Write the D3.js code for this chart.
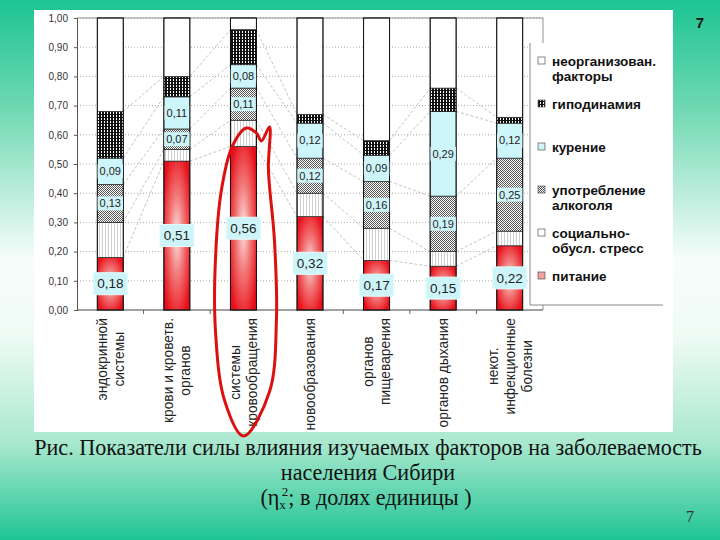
<!DOCTYPE html>
<html>
<head>
<meta charset="utf-8">
<script src="https://cdn.jsdelivr.net/npm/d3@7"></script>
<style>
body { margin: 0; }
svg { display: block; }
</style>
</head>
<body>
<script>
// categories (two-line labels as on the slide)
var categories = [
    ["эндокринной", "системы"],
    ["крови и кроветв.", "органов"],
    ["системы", "кровообращения"],
    ["новообразования"],
    ["органов", "пищеварения"],
    ["органов дыхания"],
    ["некот.", "инфекционные", "болезни"]
];

// series, bottom to top
var nutrition   = [0.18, 0.51, 0.56, 0.32, 0.17, 0.15, 0.22];
var stress      = [0.12, 0.04, 0.09, 0.08, 0.11, 0.05, 0.05];
var alcohol     = [0.13, 0.07, 0.11, 0.12, 0.16, 0.19, 0.25];
var smoking     = [0.09, 0.11, 0.08, 0.12, 0.09, 0.29, 0.12];
var hypodynamia = [0.16, 0.07, 0.12, 0.03, 0.05, 0.08, 0.02];
var unorganized = [0.32, 0.20, 0.04, 0.33, 0.42, 0.24, 0.34];

var yTicks = [0, 0.1, 0.2, 0.3, 0.4, 0.5, 0.6, 0.7, 0.8, 0.9, 1.0];

var legendLabels = [
    ["неорганизован.", "факторы"],
    ["гиподинамия"],
    ["курение"],
    ["употребление", "алкоголя"],
    ["социально-", "обусл. стресс"],
    ["питание"]
];

var width = 720,
    height = 540;

var svg = d3.select("body")
    .append("svg")
    .attr("width", width)
    .attr("height", height);

var defs = svg.append("defs");

//slide background
var bg = defs.append("linearGradient")
    .attr("id", "bgGrad")
    .attr("x1", 0).attr("y1", 0).attr("x2", 0).attr("y2", 1);
bg.append("stop").attr("offset", "0").attr("stop-color", "#1dc492");
bg.append("stop").attr("offset", "0.2").attr("stop-color", "#6fd8b3");
bg.append("stop").attr("offset", "0.48").attr("stop-color", "#f6fdfa");
bg.append("stop").attr("offset", "0.62").attr("stop-color", "#f0fbf6");
bg.append("stop").attr("offset", "0.82").attr("stop-color", "#a9e8cf");
bg.append("stop").attr("offset", "1").attr("stop-color", "#1fc493");

//red fill for "питание"
var red = defs.append("radialGradient")
    .attr("id", "redGrad")
    .attr("cx", "0.5").attr("cy", "0.5").attr("r", "0.6");
red.append("stop").attr("offset", "0").attr("stop-color", "#fbe3e3");
red.append("stop").attr("offset", "0.45").attr("stop-color", "#f27a7a");
red.append("stop").attr("offset", "1").attr("stop-color", "#e8101a");

//patterns
var pStress = defs.append("pattern")
    .attr("id", "pStress").attr("patternUnits", "userSpaceOnUse")
    .attr("width", 3).attr("height", 3);
pStress.append("rect").attr("width", 3).attr("height", 3).attr("fill", "#fff");
pStress.append("rect").attr("width", 1).attr("height", 3).attr("fill", "#cfcfcf");

var pAlc = defs.append("pattern")
    .attr("id", "pAlc").attr("patternUnits", "userSpaceOnUse")
    .attr("width", 2).attr("height", 2);
pAlc.append("rect").attr("width", 2).attr("height", 2).attr("fill", "#fff");
pAlc.append("rect").attr("width", 1).attr("height", 1).attr("fill", "#555");
pAlc.append("rect").attr("x", 1).attr("y", 1).attr("width", 1).attr("height", 1).attr("fill", "#555");

var pHypo = defs.append("pattern")
    .attr("id", "pHypo").attr("patternUnits", "userSpaceOnUse")
    .attr("width", 3).attr("height", 3);
pHypo.append("rect").attr("width", 3).attr("height", 3).attr("fill", "#fff");
pHypo.append("rect").attr("width", 2).attr("height", 3).attr("fill", "#111");
pHypo.append("rect").attr("width", 3).attr("height", 1).attr("fill", "#111");

var fills = ["url(#redGrad)", "url(#pStress)", "url(#pAlc)", "#ccf6fa", "url(#pHypo)", "#fff"];
var legendFills = ["#fff", "url(#pHypo)", "#ccf6fa", "url(#pAlc)", "#fff", "#f2a0a0"];

svg.append("rect")
    .attr("width", width).attr("height", height)
    .attr("fill", "url(#bgGrad)");

//white chart panel
svg.append("rect")
    .attr("x", 34).attr("y", 10)
    .attr("width", 639).attr("height", 422)
    .attr("fill", "#fff");

//scales
var x = d3.scaleBand()
    .domain(d3.range(categories.length))
    .range([77, 543])
    .paddingInner(0.61)
    .paddingOuter(0.305);

var y = d3.scaleLinear()
    .domain([0, 1])
    .range([310, 18]);

//gridlines
svg.selectAll(".grid")
    .data(yTicks.slice(1))
    .enter()
    .append("line")
    .attr("class", "grid")
    .attr("x1", 77).attr("x2", 543)
    .attr("y1", function(d){ return y(d); })
    .attr("y2", function(d){ return y(d); })
    .attr("stroke", "#999")
    .attr("stroke-width", 0.8)
    .attr("stroke-dasharray", "1,2");

//plot frame top / right
svg.append("path")
    .attr("d", "M77," + y(1) + "H543V310")
    .attr("fill", "none")
    .attr("stroke", "#777")
    .attr("stroke-width", 0.8);

//y axis
var yAxis = d3.axisLeft(y)
    .tickValues(yTicks)
    .tickSize(3)
    .tickFormat(function(d){ return d3.format(".2f")(d).replace(".", ","); });

var gy = svg.append("g")
    .attr("transform", "translate(77,0)")
    .call(yAxis);
gy.select(".domain").attr("stroke", "#555");
gy.selectAll(".tick line").attr("stroke", "#555");
gy.selectAll(".tick text")
    .attr("x", -9)
    .attr("font-family", "Arial, 'Liberation Sans', sans-serif")
    .attr("font-size", "10px")
    .attr("fill", "#333");

//x axis with ticks between categories
svg.append("line")
    .attr("x1", 77).attr("x2", 543)
    .attr("y1", 310).attr("y2", 310)
    .attr("stroke", "#444");
svg.selectAll(".xtick")
    .data(d3.range(1, categories.length))
    .enter()
    .append("line")
    .attr("class", "xtick")
    .attr("x1", function(d){ return x(d) - x.step() * x.paddingInner() / 2; })
    .attr("x2", function(d){ return x(d) - x.step() * x.paddingInner() / 2; })
    .attr("y1", 310).attr("y2", 314)
    .attr("stroke", "#666");

//stacked data
var keys = ["nutrition", "stress", "alcohol", "smoking", "hypodynamia", "unorganized"];
var table = categories.map(function(c, i){
    return {
        idx: i,
        nutrition: nutrition[i],
        stress: stress[i],
        alcohol: alcohol[i],
        smoking: smoking[i],
        hypodynamia: hypodynamia[i],
        unorganized: unorganized[i]
    };
});
var stacked = d3.stack().keys(keys)(table);

//series lines between neighbouring bars
var seriesLines = [];
stacked.slice(0, 5).forEach(function(s){
    for (var i = 0; i < s.length - 1; i++) {
        seriesLines.push({a: s[i], b: s[i + 1], i: i});
    }
});
svg.selectAll(".sline")
    .data(seriesLines)
    .enter()
    .append("line")
    .attr("class", "sline")
    .attr("x1", function(d){ return x(d.i) + x.bandwidth(); })
    .attr("x2", function(d){ return x(d.i + 1); })
    .attr("y1", function(d){ return y(d.a[1]); })
    .attr("y2", function(d){ return y(d.b[1]); })
    .attr("stroke", "#aaa")
    .attr("stroke-width", 0.7)
    .attr("stroke-dasharray", "3,2");

//bars
var layers = svg.selectAll(".layer")
    .data(stacked)
    .enter()
    .append("g")
    .attr("class", "layer")
    .attr("fill", function(d, i){ return fills[i]; });

layers.selectAll("rect")
    .data(function(d){ return d; })
    .enter()
    .append("rect")
    .attr("x", function(d){ return x(d.data.idx); })
    .attr("y", function(d){ return y(d[1]); })
    .attr("width", x.bandwidth())
    .attr("height", function(d){ return y(d[0]) - y(d[1]); })
    .attr("stroke", "#222")
    .attr("stroke-width", 0.7);

//full column outline
svg.selectAll(".col")
    .data(table)
    .enter()
    .append("rect")
    .attr("class", "col")
    .attr("x", function(d){ return x(d.idx); })
    .attr("y", y(1))
    .attr("width", x.bandwidth())
    .attr("height", y(0) - y(1))
    .attr("fill", "none")
    .attr("stroke", "#111")
    .attr("stroke-width", 1);

//value labels: питание (large), алкоголь and курение (small)
function fmt(v){ return d3.format(".2f")(v).replace(".", ","); }
var labelSets = [
    {layer: 0, size: 13.5, boxH: 22, pad: 4},
    {layer: 2, size: 11, boxH: 14, pad: 2},
    {layer: 3, size: 11, boxH: 14, pad: 2}
];
labelSets.forEach(function(ls){
    stacked[ls.layer].forEach(function(d){
        var v = d[1] - d[0];
        var cx = x(d.data.idx) + x.bandwidth() / 2,
            cy = y((d[0] + d[1]) / 2);
        var g = svg.append("g").attr("transform", "translate(" + cx + "," + cy + ")");
        var box = g.append("rect")
            .attr("fill", "#cdf5f9")
            .attr("stroke", ls.layer === 0 ? "#e6fbfd" : "none");
        var t = g.append("text")
            .attr("text-anchor", "middle")
            .attr("dy", "0.35em")
            .attr("font-family", "Arial, 'Liberation Sans', sans-serif")
            .attr("font-size", ls.size + "px")
            .attr("fill", "#222")
            .text(fmt(v));
        var w = t.node().getComputedTextLength() + ls.pad * 2;
        box.attr("x", -w / 2).attr("y", -ls.boxH / 2)
            .attr("width", w).attr("height", ls.boxH);
    });
});

//category labels, rotated
categories.forEach(function(lines, i){
    var cx = x(i) + x.bandwidth() / 2;
    var g = svg.append("g");
    var texts = lines.map(function(line, j){
        return g.append("text")
            .attr("text-anchor", "middle")
            .attr("font-family", "Arial, 'Liberation Sans', sans-serif")
            .attr("font-size", "13.8px")
            .attr("fill", "#222")
            .text(line);
    });
    var maxLen = d3.max(texts, function(t){ return t.node().getComputedTextLength(); });
    var cy = 318 + maxLen / 2;
    texts.forEach(function(t, j){
        var lx = cx + (j - (lines.length - 1) / 2) * 17 + 5;
        t.attr("transform", "translate(" + lx + "," + cy + ") rotate(-90)");
    });
});

//legend
svg.append("rect")
    .attr("x", 530).attr("y", 43)
    .attr("width", 133).attr("height", 262)
    .attr("fill", "#fff")
    .attr("stroke", "none");
svg.append("path")
    .attr("d", "M530,43V305H663")
    .attr("fill", "none")
    .attr("stroke", "#888")
    .attr("stroke-width", 1);

var legend = svg.selectAll(".legend")
    .data(legendLabels)
    .enter()
    .append("g")
    .attr("class", "legend")
    .attr("transform", function(d, i){ return "translate(538," + (61 + i * 43) + ")"; });
legend.append("rect")
    .attr("x", 0).attr("y", -4)
    .attr("width", 7).attr("height", 7)
    .attr("fill", function(d, i){ return legendFills[i]; })
    .attr("stroke", "#555")
    .attr("stroke-width", 0.7);
legend.each(function(lines){
    var g = d3.select(this);
    lines.forEach(function(line, j){
        g.append("text")
            .attr("x", 14)
            .attr("y", j * 15 + 5)
            .attr("font-family", "Arial, 'Liberation Sans', sans-serif")
            .attr("font-size", "13.5px")
            .attr("font-weight", "bold")
            .attr("fill", "#111")
            .text(line);
    });
});

//red hand-drawn loop around the circulatory bar
var hc = x(2) + x.bandwidth() / 2;
var loop = [
    [0, 436], [-19, 400], [-28, 330], [-28, 260], [-22, 190], [-11, 146],
    [3, 128], [13, 133], [18, 141], [26, 127], [25, 170], [31, 240],
    [33, 320], [26, 392]
];
svg.append("path")
    .attr("d", d3.line()
        .x(function(d){ return hc + d[0]; })
        .y(function(d){ return d[1]; })
        .curve(d3.curveCatmullRomClosed)(loop))
    .attr("fill", "none")
    .attr("stroke", "#dd1010")
    .attr("stroke-width", 3);

//caption (serif, sized so the first line spans the slide like the original)
var serif = "'Liberation Serif', 'Times New Roman', 'DejaVu Serif', serif";
var cap = svg.append("g")
    .attr("font-family", serif)
    .attr("font-size", "22px")
    .attr("fill", "#111")
    .attr("text-anchor", "middle");
var c1 = cap.append("text").attr("x", 368).attr("y", 455)
    .text("Рис. Показатели силы влияния изучаемых факторов на заболеваемость");
var capSize = Math.min(25, 22 * 668 / c1.node().getComputedTextLength());
cap.attr("font-size", capSize + "px");
cap.append("text").attr("x", 368).attr("y", 480)
    .text("населения Сибири");
var l3 = cap.append("text").attr("x", 366).attr("y", 505);
l3.append("tspan").text("(η");
l3.append("tspan").attr("font-size", "13px").attr("dy", 4).text("x");
l3.append("tspan").attr("font-size", "13px").attr("dx", -4).attr("dy", -13).text("2");
l3.append("tspan").attr("dy", 9).text("; в долях единицы )");

//slide numbers
svg.append("text")
    .attr("x", 700).attr("y", 28)
    .attr("text-anchor", "middle")
    .attr("font-family", "Arial, 'Liberation Sans', sans-serif")
    .attr("font-size", "15px")
    .attr("font-weight", "bold")
    .attr("fill", "#111")
    .text("7");
svg.append("text")
    .attr("x", 690).attr("y", 522)
    .attr("text-anchor", "middle")
    .attr("font-family", serif)
    .attr("font-size", "16px")
    .attr("fill", "#333")
    .text("7");
</script>
</body>
</html>
